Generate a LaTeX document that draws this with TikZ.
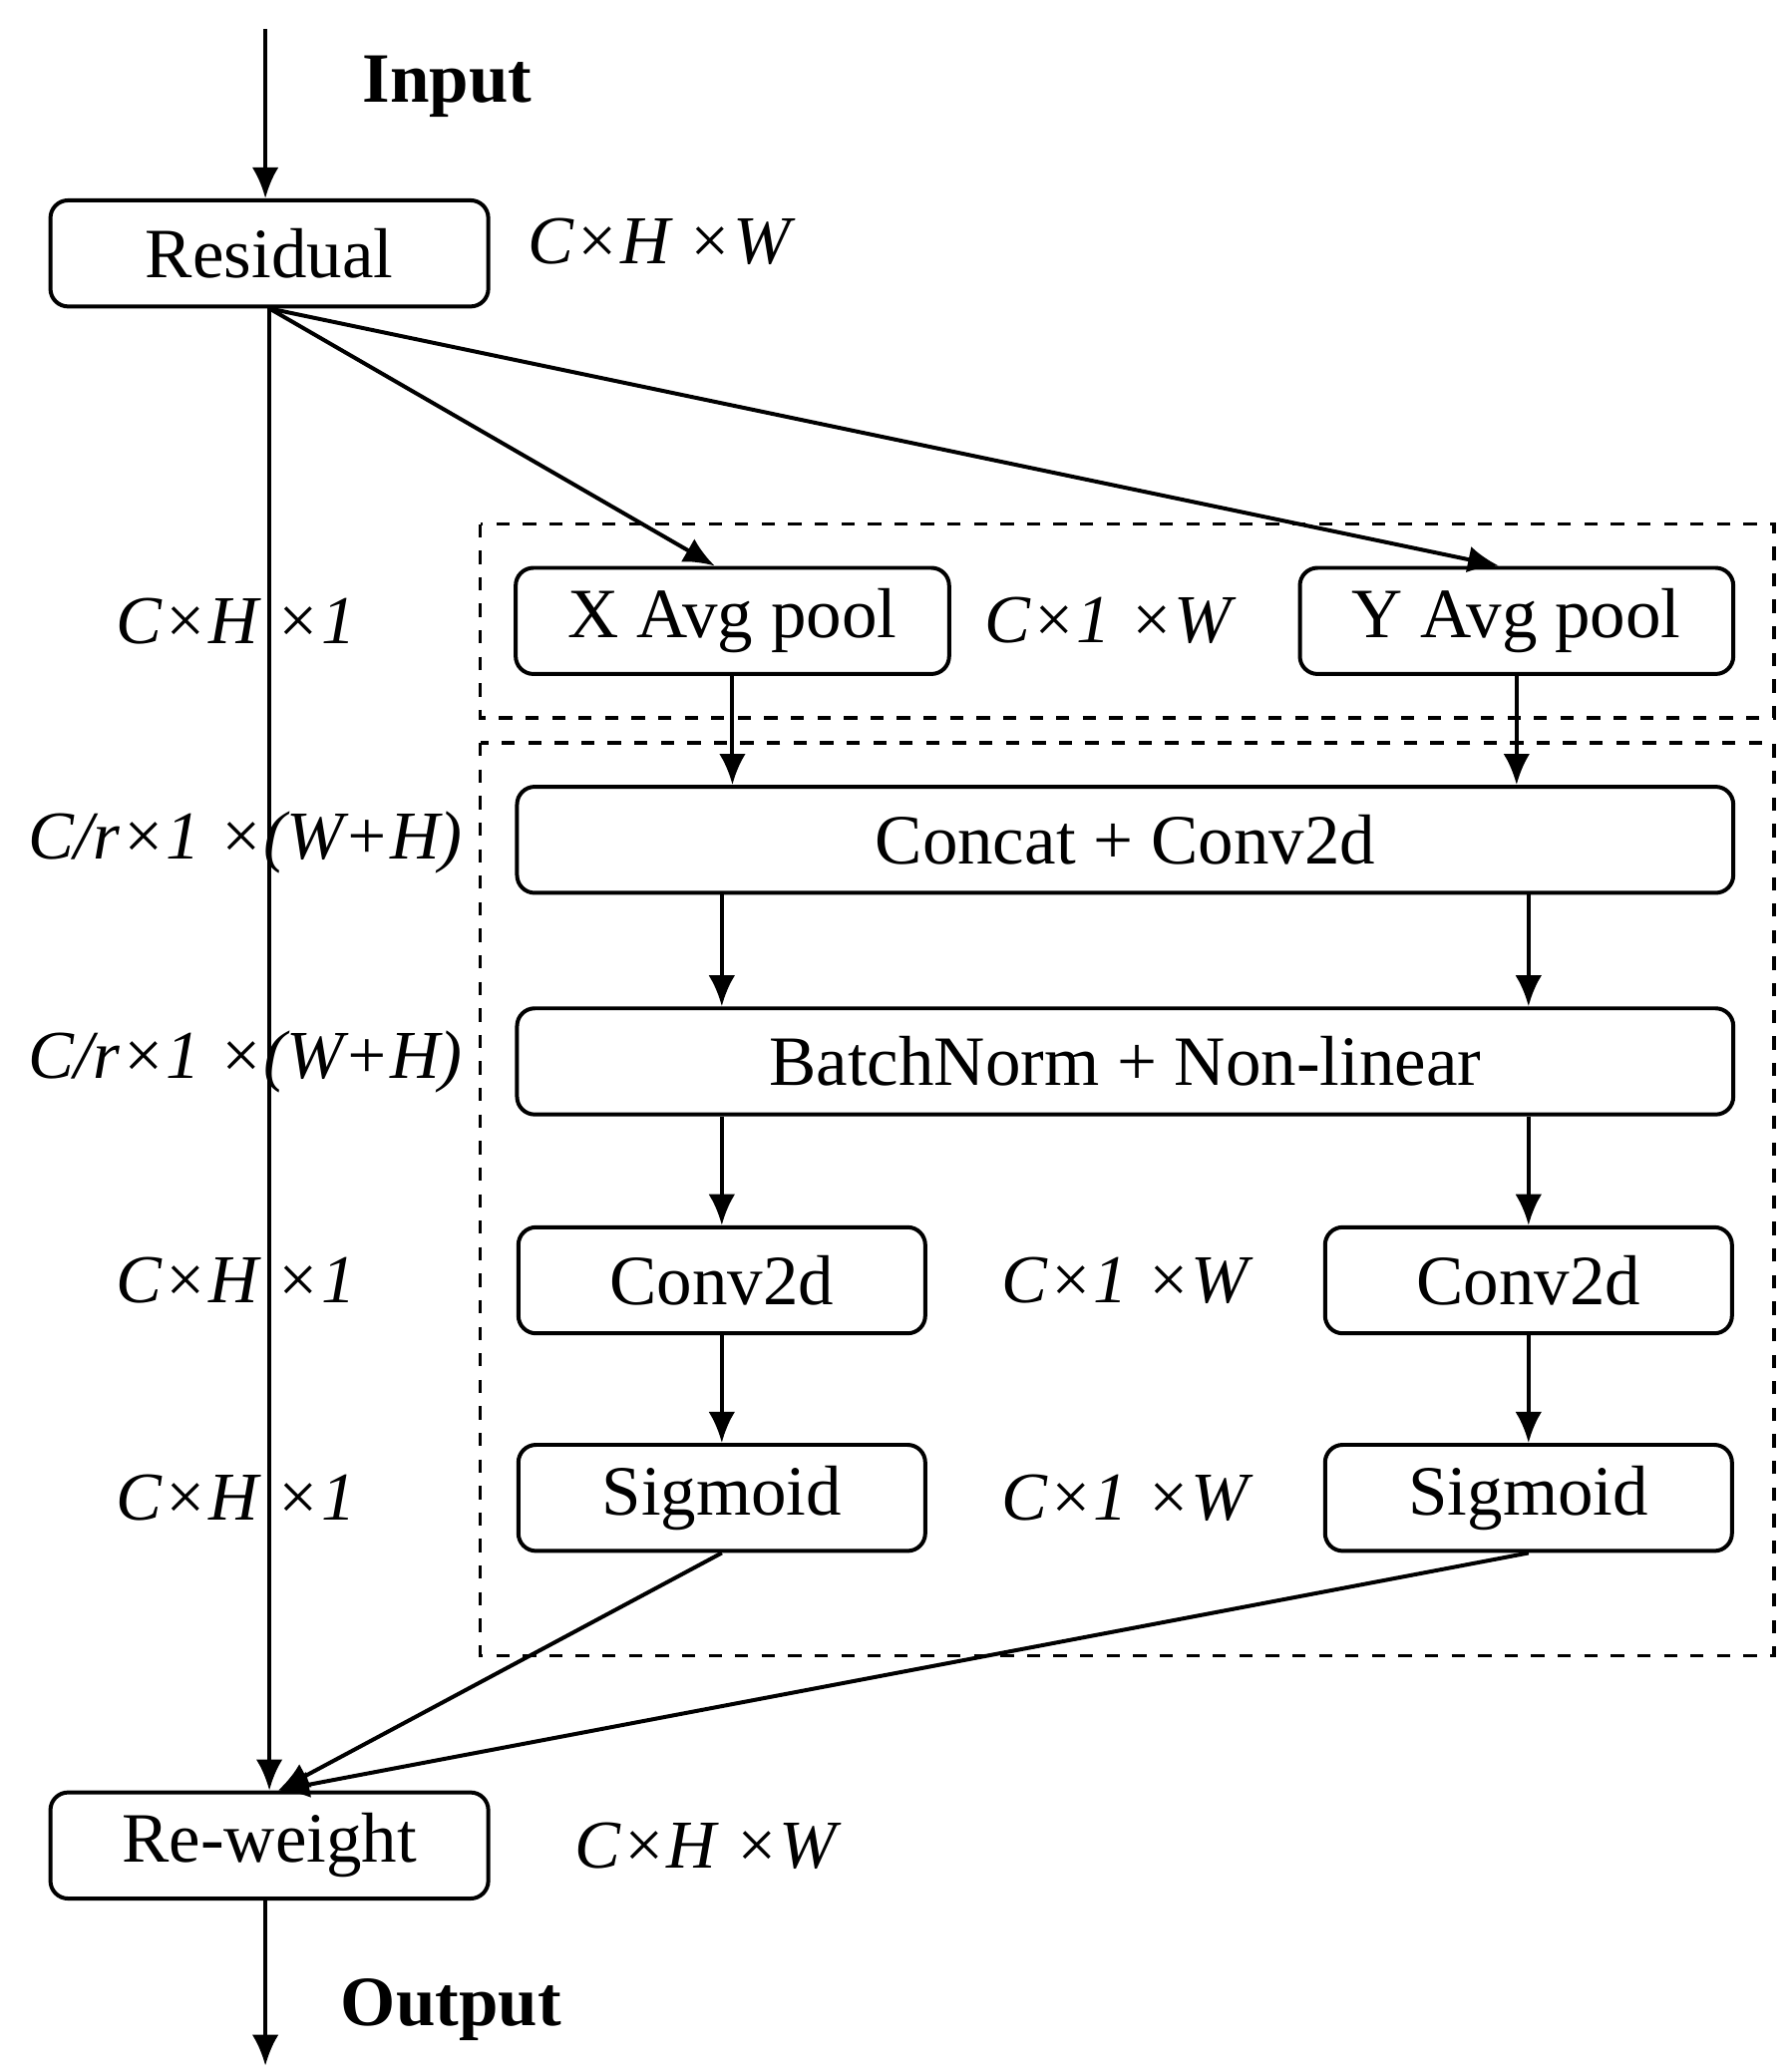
\documentclass[tikz,border=0pt]{standalone}
\usepackage{fontspec}
\setmainfont{Liberation Serif}
\usetikzlibrary{arrows.meta}
\tikzset{every picture/.style={line width=0.9pt}}
\tikzset{
  blk/.style={draw,rounded corners=4pt,minimum height=24pt,inner sep=0pt,font=\fontsize{16}{19}\selectfont},
  dim/.style={font=\fontsize{15.5}{19}\selectfont\itshape},
  ttl/.style={font=\fontsize{16}{19}\selectfont\bfseries},
  arr/.style={-{Latex[length=7pt,width=6pt]}},
  box/.style={draw,dashed,line width=0.8pt}
}
\begin{document}
\begin{tikzpicture}[x=0.3pt,y=0.3pt,yscale=-1,xscale=1]
        \useasboundingbox (0,0) rectangle (1350,1561);

        \draw[box] (362,395) rectangle (1337,541);
        \draw[box] (362,560) rectangle (1337,1248);

        \node[blk,minimum width=99pt] (res) at (203,191){Residual};
        \node[blk,minimum width=98pt] (xpool) at (552,468){X Avg pool};
        \node[blk,minimum width=98pt] (ypool) at (1143,468){Y Avg pool};
        \node[blk,minimum width=275pt] (cat) at (848,633){Concat + Conv2d};
        \node[blk,minimum width=275pt] (bn) at (848,800){BatchNorm + Non-linear};
        \node[blk,minimum width=92pt] (convx) at (544,965){Conv2d};
        \node[blk,minimum width=92pt] (convy) at (1152,965){Conv2d};
        \node[blk,minimum width=92pt] (sigx) at (544,1129){Sigmoid};
        \node[blk,minimum width=92pt] (sigy) at (1152,1129){Sigmoid};
        \node[blk,minimum width=99pt] (rew) at (203,1391){Re-weight};

        \node[ttl] (inp) at (337,65){Input};
        \node[ttl] (outp) at (340,1515){Output};
        \coordinate (top) at (200,22);
        \coordinate (bot) at (200,1557);

        \node[dim] (d1) at (497,182){C×H ×W};
        \node[dim] (d2) at (835,468){C×1 ×W};
        \node[dim] (d3) at (848,965){C×1 ×W};
        \node[dim] (d4) at (848,1129){C×1 ×W};
        \node[dim] (d5) at (532,1391){C×H ×W};
        \node[dim] (l1) at (178,468){C×H ×1};
        \node[dim] (l2) at (185,635){C/r×1 ×(W+H)};
        \node[dim] (l3) at (185,800){C/r×1 ×(W+H)};
        \node[dim] (l4) at (178,965){C×H ×1};
        \node[dim] (l5) at (178,1129){C×H ×1};

        \draw[arr] (top) -- (res.north -| top);
        \draw[arr] (res.south) -- (rew.north);
        \draw[arr] (res.south) -- ([xshift=-4pt]xpool.north);
        \draw[arr] (res.south) -- ([xshift=-4pt]ypool.north);

        \draw[arr] (xpool.south) -- (cat.north -| xpool);
        \draw[arr] (ypool.south) -- (cat.north -| ypool);
        \draw[arr] (cat.south -| convx) -- (bn.north -| convx);
        \draw[arr] (cat.south -| convy) -- (bn.north -| convy);
        \draw[arr] (bn.south -| convx) -- (convx.north);
        \draw[arr] (bn.south -| convy) -- (convy.north);
        \draw[arr] (convx) -- (sigx);
        \draw[arr] (convy) -- (sigy);

        \draw[arr] (sigx.south) -- ([xshift=2pt]rew.north);
        \draw[arr] (sigy.south) -- ([xshift=2pt]rew.north);
        \draw[arr] (rew.south -| bot) -- (bot);
\end{tikzpicture}
\end{document}
